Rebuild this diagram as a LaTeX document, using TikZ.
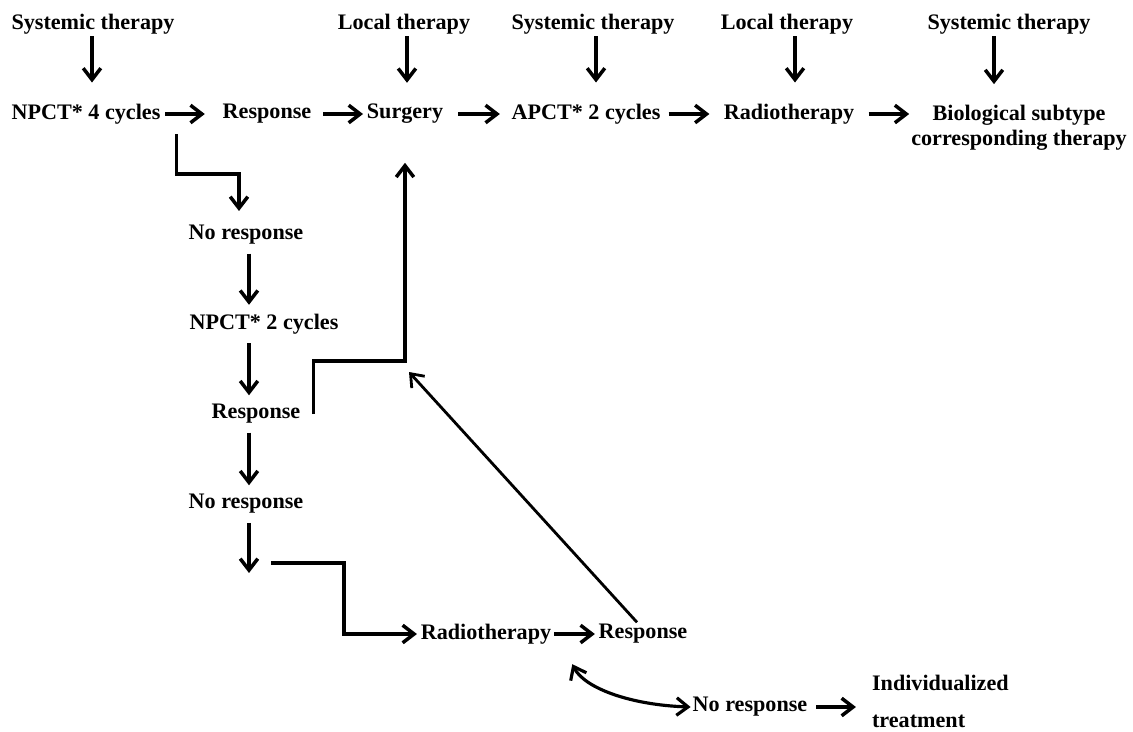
\documentclass[tikz,border=0pt]{standalone}
\usepackage{fontspec}
\setmainfont{Liberation Serif}
\usetikzlibrary{arrows.meta, positioning, calc}
\tikzset{
  txt/.style={font=\fontsize{12.6}{14}\selectfont\bfseries, inner sep=1pt},
  arrow/.style={-{Straight Barb[length=6.5pt,width=10pt]}, line width=2pt,
    shorten <=4pt, shorten >=4pt},
  twoway/.style={{Straight Barb[length=6.5pt,width=10pt]}-{Straight Barb[length=6.5pt,width=10pt]},
    line width=1.8pt},
}

\begin{document}
\begin{tikzpicture}[x=0.02cm, y=-0.02cm]
  \useasboundingbox (0,0) rectangle (1133,731);

  % Therapy types
  \node[txt] (sysA)   at (93,24)   {Systemic therapy};
  \node[txt] (localA) at (404,24)  {Local therapy};
  \node[txt] (sysB)   at (593,24)  {Systemic therapy};
  \node[txt] (localB) at (787,24)  {Local therapy};
  \node[txt] (sysC)   at (1009,24) {Systemic therapy};

  % Main sequence
  \node[txt] (npct4)   at (86,114)  {NPCT* 4 cycles};
  \node[txt] (resp1)   at (267,114) {Response};
  \node[txt] (surgery) at (405,114) {Surgery};
  \node[txt] (apct)    at (586,114) {APCT* 2 cycles};
  \node[txt] (radio1)  at (789,114) {Radiotherapy};
  \node[txt, align=center] (biosub) at (1019,128) {Biological subtype\\corresponding therapy};

  % No response branch
  \node[txt] (noresp1) at (246,235) {No response};
  \node[txt] (npct2)   at (264,324) {NPCT* 2 cycles};
  \node[txt] (resp2)   at (256,414) {Response};
  \node[txt] (noresp2) at (246,504) {No response};
  \node[txt] (radio2)  at (486,634) {Radiotherapy};
  \node[txt] (resp3)   at (643,634) {Response};
  \node[txt] (noresp3) at (750,707) {No response};
  \node[txt, anchor=west, align=left] (indiv) at (870,701) {Individualized\\[7pt]treatment};

  \coordinate (col)  at (249,0);
  \coordinate (drop) at (249,580);
  \coordinate (kink) at (271,563);
  \coordinate (join) at (409,372);

  % Arrows
  \foreach \t/\b/\dx in {sysA/npct4/-1, localA/surgery/3, sysB/apct/3, localB/radio1/8, sysC/biosub/-15}
    \draw[arrow, shorten <=0pt, shorten >=11pt] ($(\t.south)+(\dx,0)$) -- ($(\t.south |- \b.north)+(\dx,0)$);

  \foreach \a/\b/\s/\e in {npct4/resp1/1.5pt/9pt, resp1/surgery/5.7pt/1pt,
                           surgery/apct/7.5pt/5.5pt, apct/radio1/3.5pt/7pt}
    \draw[arrow, shorten <=\s, shorten >=\e] (\a) -- (\b);
  \draw[arrow, shorten <=7pt, shorten >=0pt] (radio1.east) -- (radio1.east -| biosub.west);

  \draw[arrow, shorten <=0pt, shorten >=7pt] ([shift={(14,8)}]npct4.south east) -- ++(0,40)
    -| ($(noresp1.north)+(-7,0)$);
  \draw[arrow] (noresp1.south -| col) -- (npct2.north -| col);
  \draw[arrow] (npct2.south -| col) -- (resp2.north -| col);
  \draw[arrow] (resp2.south -| col) -- (noresp2.north -| col);
  \draw[arrow] (noresp2.south -| col) -- (drop);

  \draw[arrow, shorten <=0pt, shorten >=21pt] ([xshift=0.22cm]resp2.east) -- ++(0,-53) -| (surgery.south);
  \draw[arrow, shorten <=0pt, shorten >=1pt] (kink) -- ++(73,0) |- (radio2.west);
  \draw[arrow, shorten <=0.5pt, shorten >=1pt] (radio2) -- (resp3);
  \draw[arrow, line width=1.6pt, shorten <=0pt, shorten >=0pt] ([xshift=-0.12cm]resp3.north) -- (join);

  \draw[twoway] ([shift={(19,18)}]radio2.south east) .. controls +(12,24) and +(-60,-2) .. (noresp3.west);
  \draw[arrow, shorten >=8pt] (noresp3.east) -- (noresp3.east -| indiv.west);
\end{tikzpicture}
\end{document}
